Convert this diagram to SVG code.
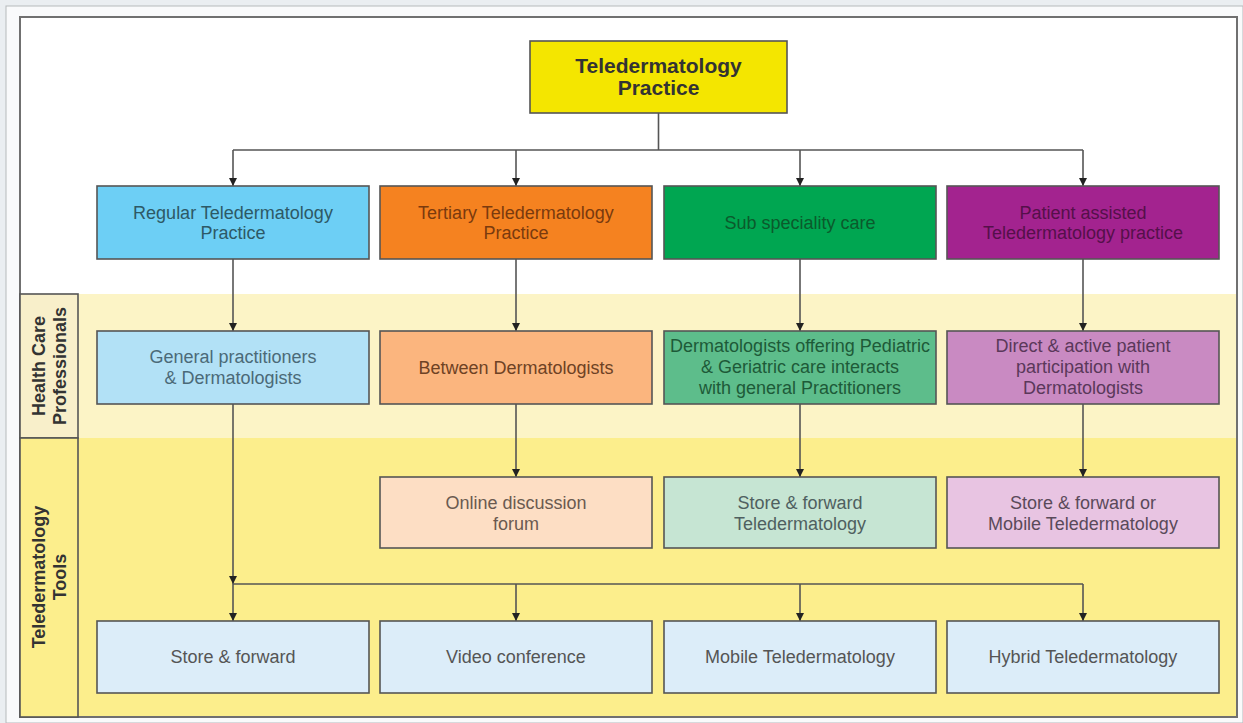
<svg xmlns="http://www.w3.org/2000/svg" width="1243" height="723" viewBox="0 0 1243 723">
<defs>
<marker id="arr" viewBox="0 0 10 10" refX="10" refY="5" markerWidth="8" markerHeight="8" markerUnits="userSpaceOnUse" orient="auto">
<path d="M0,0 L10,5 L0,10 z" fill="#222"/>
</marker>
<style>
.box{stroke:#555;stroke-width:1.6}
.t{font-family:"Liberation Sans",Arial,sans-serif;font-size:18px;text-anchor:middle}
.b{font-family:"Liberation Sans",Arial,sans-serif;font-weight:bold;text-anchor:middle}
.c{fill:none;stroke:#555;stroke-width:1.6}
.ca{fill:none;stroke:#555;stroke-width:1.6;marker-end:url(#arr)}
</style>
</defs>
<rect x="0" y="0" width="1243" height="723" fill="#eaeef1"/>
<rect x="6" y="6" width="1237" height="717" fill="#f9fafb" stroke="#b5b9bc" stroke-width="1"/>
<rect x="20" y="17" width="1217" height="700" fill="#ffffff"/>
<rect x="20" y="294" width="1217" height="144" fill="#fcf4c6"/>
<rect x="20" y="438" width="1217" height="279" fill="#fcee8c"/>
<rect x="20" y="17" width="1217" height="700" fill="none" stroke="#707070" stroke-width="2"/>

<g id="lane-hcp">
<rect x="20" y="294" width="58" height="144" fill="#f8efca" stroke="#555" stroke-width="1.6"/>
<text class="b" font-size="18" fill="#333" transform="translate(45,366) rotate(-90)">Health Care</text>
<text class="b" font-size="18" fill="#333" transform="translate(66,366) rotate(-90)">Professionals</text>
</g>
<g id="lane-tools">
<rect x="20" y="438" width="58" height="279" fill="#fcee8c" stroke="#555" stroke-width="1.6"/>
<text class="b" font-size="18" fill="#333" transform="translate(45,577) rotate(-90)">Teledermatology</text>
<text class="b" font-size="18" fill="#333" transform="translate(66,577) rotate(-90)">Tools</text>
</g>

<g id="connectors">
<path class="c" d="M658.5,113 V150 M233,150 H1083"/>
<path class="ca" d="M233,150 V186"/>
<path class="ca" d="M516,150 V186"/>
<path class="ca" d="M800,150 V186"/>
<path class="ca" d="M1083,150 V186"/>
<path class="ca" d="M233,259 V331"/>
<path class="ca" d="M516,259 V331"/>
<path class="ca" d="M800,259 V331"/>
<path class="ca" d="M1083,259 V331"/>
<path class="ca" d="M516,404 V477"/>
<path class="ca" d="M800,404 V477"/>
<path class="ca" d="M1083,404 V477"/>
<path class="ca" d="M233,404 V584"/>
<path class="c" d="M233,584 H1083"/>
<path class="ca" d="M233,584 V621"/>
<path class="ca" d="M516,584 V621"/>
<path class="ca" d="M800,584 V621"/>
<path class="ca" d="M1083,584 V621"/>
</g>

<g id="root">
<rect class="box" x="530" y="41" width="257" height="72" fill="#f4e600"/>
<text class="b" font-size="21" fill="#333" x="658.5" y="73">Teledermatology</text>
<text class="b" font-size="21" fill="#333" x="658.5" y="95">Practice</text>
</g>

<g id="regular">
<rect class="box" x="97" y="186" width="272" height="73" fill="#6dcff5"/>
<text class="t" fill="#2d5966" x="233" y="219">Regular Teledermatology</text>
<text class="t" fill="#2d5966" x="233" y="239">Practice</text>
</g>
<g id="tertiary">
<rect class="box" x="380" y="186" width="272" height="73" fill="#f58220"/>
<text class="t" fill="#7a3a0e" x="516" y="219">Tertiary Teledermatology</text>
<text class="t" fill="#7a3a0e" x="516" y="239">Practice</text>
</g>
<g id="subspeciality">
<rect class="box" x="664" y="186" width="272" height="73" fill="#00a651"/>
<text class="t" fill="#0b5a2c" x="800" y="229">Sub speciality care</text>
</g>
<g id="patient">
<rect class="box" x="947" y="186" width="272" height="73" fill="#a3238f"/>
<text class="t" fill="#55104a" x="1083" y="219">Patient assisted</text>
<text class="t" fill="#55104a" x="1083" y="239">Teledermatology practice</text>
</g>

<g id="gp">
<rect class="box" x="97" y="331" width="272" height="73" fill="#b2e1f6"/>
<text class="t" fill="#4b6a78" x="233" y="363">General practitioners</text>
<text class="t" fill="#4b6a78" x="233" y="384">&amp; Dermatologists</text>
</g>
<g id="between">
<rect class="box" x="380" y="331" width="272" height="73" fill="#fbb57e"/>
<text class="t" fill="#6e4224" x="516" y="374">Between Dermatologists</text>
</g>
<g id="peds">
<rect class="box" x="664" y="331" width="272" height="73" fill="#5dbd8b"/>
<text class="t" fill="#1d5a38" x="800" y="352">Dermatologists offering Pediatric</text>
<text class="t" fill="#1d5a38" x="800" y="373">&amp; Geriatric care interacts</text>
<text class="t" fill="#1d5a38" x="800" y="394">with general Practitioners</text>
</g>
<g id="direct">
<rect class="box" x="947" y="331" width="272" height="73" fill="#c98ac2"/>
<text class="t" fill="#5a385a" x="1083" y="352">Direct &amp; active patient</text>
<text class="t" fill="#5a385a" x="1083" y="373">participation with</text>
<text class="t" fill="#5a385a" x="1083" y="394">Dermatologists</text>
</g>

<g id="forum">
<rect class="box" x="380" y="477" width="272" height="71" fill="#fddec4"/>
<text class="t" fill="#6a5a50" x="516" y="509">Online discussion</text>
<text class="t" fill="#6a5a50" x="516" y="530">forum</text>
</g>
<g id="sf-tele">
<rect class="box" x="664" y="477" width="272" height="71" fill="#c6e5d3"/>
<text class="t" fill="#4f6060" x="800" y="509">Store &amp; forward</text>
<text class="t" fill="#4f6060" x="800" y="530">Teledermatology</text>
</g>
<g id="sf-mobile">
<rect class="box" x="947" y="477" width="272" height="71" fill="#e8c4e2"/>
<text class="t" fill="#5a4a5a" x="1083" y="509">Store &amp; forward or</text>
<text class="t" fill="#5a4a5a" x="1083" y="530">Mobile Teledermatology</text>
</g>

<g id="store-forward">
<rect class="box" x="97" y="621" width="272" height="72" fill="#dcedf9"/>
<text class="t" fill="#555" x="233" y="663">Store &amp; forward</text>
</g>
<g id="video">
<rect class="box" x="380" y="621" width="272" height="72" fill="#dcedf9"/>
<text class="t" fill="#555" x="516" y="663">Video conference</text>
</g>
<g id="mobile">
<rect class="box" x="664" y="621" width="272" height="72" fill="#dcedf9"/>
<text class="t" fill="#555" x="800" y="663">Mobile Teledermatology</text>
</g>
<g id="hybrid">
<rect class="box" x="947" y="621" width="272" height="72" fill="#dcedf9"/>
<text class="t" fill="#555" x="1083" y="663">Hybrid Teledermatology</text>
</g>
</svg>
